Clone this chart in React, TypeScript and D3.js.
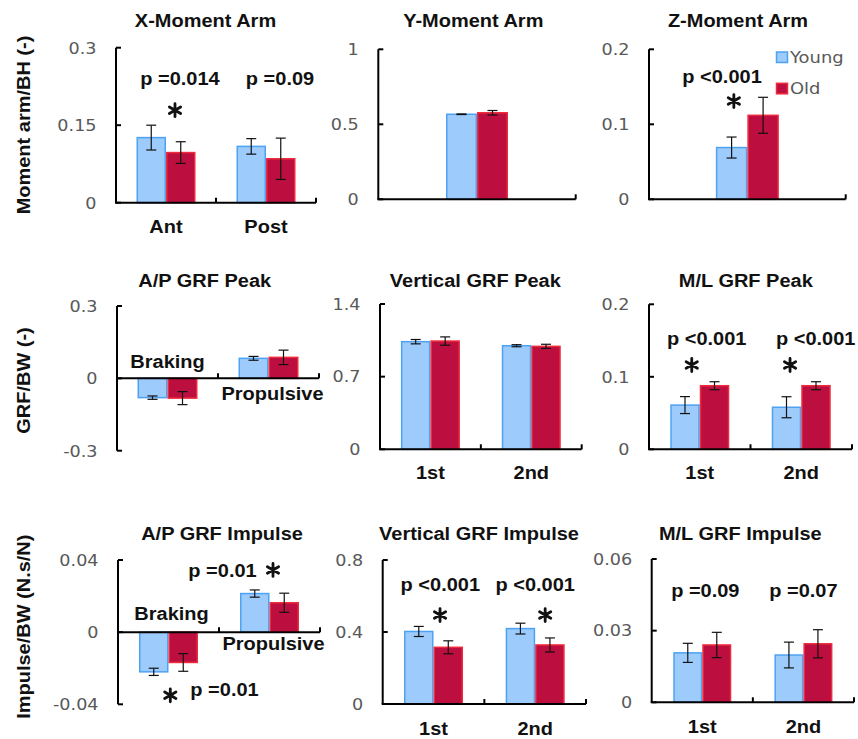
import React from "react";
import * as d3 from "d3";

// ---------- data ----------
const seriesNames = ["Young", "Old"];

const xMomentCats = ["Ant", "Post"];
const xMomentYoung = [0.126, 0.109];
const xMomentYoungErr = [0.024, 0.015];
const xMomentOld = [0.097, 0.085];
const xMomentOldErr = [0.021, 0.04];
const xMomentTicks = [0, 0.15, 0.3];

const yMomentCats = [""];
const yMomentYoung = [0.567];
const yMomentYoungErr = [0.002];
const yMomentOld = [0.577];
const yMomentOldErr = [0.015];
const yMomentTicks = [0, 0.5, 1];

const zMomentCats = [""];
const zMomentYoung = [0.069];
const zMomentYoungErr = [0.014];
const zMomentOld = [0.112];
const zMomentOldErr = [0.024];
const zMomentTicks = [0, 0.1, 0.2];

const apPeakCats = ["Braking", "Propulsive"];
const apPeakYoung = [-0.08, 0.083];
const apPeakYoungErr = [0.007, 0.008];
const apPeakOld = [-0.082, 0.087];
const apPeakOldErr = [0.027, 0.03];
const apPeakTicks = [-0.3, 0, 0.3];

const vPeakCats = ["1st", "2nd"];
const vPeakYoung = [1.037, 0.998];
const vPeakYoungErr = [0.021, 0.01];
const vPeakOld = [1.043, 0.992];
const vPeakOldErr = [0.04, 0.02];
const vPeakTicks = [0, 0.7, 1.4];

const mlPeakCats = ["1st", "2nd"];
const mlPeakYoung = [0.061, 0.058];
const mlPeakYoungErr = [0.0117, 0.0145];
const mlPeakOld = [0.0877, 0.0877];
const mlPeakOldErr = [0.0055, 0.0055];
const mlPeakTicks = [0, 0.1, 0.2];

const apImpCats = ["Braking", "Propulsive"];
const apImpYoung = [-0.022, 0.0214];
const apImpYoungErr = [0.002, 0.002];
const apImpOld = [-0.0168, 0.0163];
const apImpOldErr = [0.0049, 0.0053];
const apImpTicks = [-0.04, 0, 0.04];

const vImpCats = ["1st", "2nd"];
const vImpYoung = [0.403, 0.419];
const vImpYoungErr = [0.028, 0.03];
const vImpOld = [0.315, 0.328];
const vImpOldErr = [0.036, 0.039];
const vImpTicks = [0, 0.4, 0.8];

const mlImpCats = ["1st", "2nd"];
const mlImpYoung = [0.0207, 0.0198];
const mlImpYoungErr = [0.004, 0.0054];
const mlImpOld = [0.024, 0.0245];
const mlImpOldErr = [0.0053, 0.0059];
const mlImpTicks = [0, 0.03, 0.06];

// ---------- style ----------
const BOLD = "'Liberation Sans', Arial, sans-serif";
const TICKF = "'DejaVu Sans', Verdana, sans-serif";
const SX = 1.08;
const FILLS = ["#9ccbfc", "#bd0f3f"];
const STROKES = ["#4ea2f2", "#ee2a3c"];
const TXT = "#111";
const GRAY = "#595959";

type Note = { text: string; cat: number; dx: number; v: number };
type CatLab = { dx: number; dy: number };

type PanelCfg = {
  title: string;
  titleX: number;
  titleY: number;
  left: number;
  right: number;
  top: number;
  bottom: number;
  domain: [number, number];
  ticks: number[];
  cats: string[];
  young: number[];
  youngErr: number[];
  old: number[];
  oldErr: number[];
  barW: number;
  notes: Note[];
  catLabs?: CatLab[];
  catDy?: number;
  legend?: boolean;
};

const panels: PanelCfg[] = [
  {
    title: "X-Moment Arm", titleX: 205.5, titleY: 27.3,
    left: 116, right: 316, top: 47.7, bottom: 202.7, domain: [0, 0.3], ticks: xMomentTicks,
    cats: xMomentCats, young: xMomentYoung, youngErr: xMomentYoungErr, old: xMomentOld, oldErr: xMomentOldErr,
    barW: 29.5, catDy: 30.6,
    notes: [
      { text: "p =0.014", cat: 0, dx: 14, v: 0.2277 },
      { text: "*", cat: 0, dx: 9, v: 0.179 },
      { text: "p =0.09", cat: 1, dx: 14, v: 0.2277 },
    ],
  },
  {
    title: "Y-Moment Arm", titleX: 473.3, titleY: 27.3,
    left: 378.3, right: 575.7, top: 49.3, bottom: 199.3, domain: [0, 1], ticks: yMomentTicks,
    cats: yMomentCats, young: yMomentYoung, youngErr: yMomentYoungErr, old: yMomentOld, oldErr: yMomentOldErr,
    barW: 31, notes: [],
  },
  {
    title: "Z-Moment Arm", titleX: 738, titleY: 27.3,
    left: 649, right: 845.7, top: 49.3, bottom: 199.3, domain: [0, 0.2], ticks: zMomentTicks,
    cats: zMomentCats, young: zMomentYoung, youngErr: zMomentYoungErr, old: zMomentOld, oldErr: zMomentOldErr,
    barW: 31.5, legend: true,
    notes: [
      { text: "p <0.001", cat: 0, dx: -25.3, v: 0.1547 },
      { text: "*", cat: 0, dx: -13.5, v: 0.131 },
    ],
  },
  {
    title: "A/P GRF Peak", titleX: 204.7, titleY: 286.7,
    left: 117, right: 319, top: 306, bottom: 450.7, domain: [-0.3, 0.3], ticks: apPeakTicks,
    cats: apPeakCats, young: apPeakYoung, youngErr: apPeakYoungErr, old: apPeakOld, oldErr: apPeakOldErr,
    barW: 30, notes: [],
    catLabs: [{ dx: 0, dy: -10 }, { dx: 4, dy: 21.7 }],
  },
  {
    title: "Vertical GRF Peak", titleX: 475.3, titleY: 287.3,
    left: 380, right: 581.7, top: 304, bottom: 449.3, domain: [0, 1.4], ticks: vPeakTicks,
    cats: vPeakCats, young: vPeakYoung, youngErr: vPeakYoungErr, old: vPeakOld, oldErr: vPeakOldErr,
    barW: 29.5, catDy: 29.5, notes: [],
  },
  {
    title: "M/L GRF Peak", titleX: 745.8, titleY: 287,
    left: 649, right: 852, top: 304.3, bottom: 449.3, domain: [0, 0.2], ticks: mlPeakTicks,
    cats: mlPeakCats, young: mlPeakYoung, youngErr: mlPeakYoungErr, old: mlPeakOld, oldErr: mlPeakOldErr,
    barW: 29.5, catDy: 29.5,
    notes: [
      { text: "p <0.001", cat: 0, dx: 7, v: 0.1439 },
      { text: "*", cat: 0, dx: -8, v: 0.1163 },
      { text: "p <0.001", cat: 1, dx: 14.5, v: 0.1439 },
      { text: "*", cat: 1, dx: -11.2, v: 0.1163 },
    ],
  },
  {
    title: "A/P GRF Impulse", titleX: 222, titleY: 540,
    left: 118, right: 320, top: 560, bottom: 704.3, domain: [-0.04, 0.04], ticks: apImpTicks,
    cats: apImpCats, young: apImpYoung, youngErr: apImpYoungErr, old: apImpOld, oldErr: apImpOldErr,
    barW: 29.5,
    catLabs: [{ dx: 3, dy: -11.7 }, { dx: 4, dy: 18.3 }],
    notes: [
      { text: "p =0.01", cat: 1, dx: -47, v: 0.0304 },
      { text: "*", cat: 1, dx: 3.5, v: 0.0345 },
      { text: "*", cat: 0, dx: 1.8, v: -0.035 },
      { text: "p =0.01", cat: 0, dx: 56, v: -0.0356 },
    ],
  },
  {
    title: "Vertical GRF Impulse", titleX: 479, titleY: 540,
    left: 382.7, right: 586, top: 560, bottom: 704, domain: [0, 0.8], ticks: vImpTicks,
    cats: vImpCats, young: vImpYoung, youngErr: vImpYoungErr, old: vImpOld, oldErr: vImpOldErr,
    barW: 29.5, catDy: 31,
    notes: [
      { text: "p <0.001", cat: 0, dx: 6.8, v: 0.628 },
      { text: "*", cat: 0, dx: 6.5, v: 0.494 },
      { text: "p <0.001", cat: 1, dx: 0, v: 0.628 },
      { text: "*", cat: 1, dx: 10, v: 0.494 },
    ],
  },
  {
    title: "M/L GRF Impulse", titleX: 740.3, titleY: 540,
    left: 651.7, right: 854, top: 559, bottom: 702.3, domain: [0, 0.06], ticks: mlImpTicks,
    cats: mlImpCats, young: mlImpYoung, youngErr: mlImpYoungErr, old: mlImpOld, oldErr: mlImpOldErr,
    barW: 29, catDy: 31,
    notes: [
      { text: "p =0.09", cat: 0, dx: 3, v: 0.0442 },
      { text: "p =0.07", cat: 1, dx: 0, v: 0.0442 },
    ],
  },
];

const yLabels = [
  { text: "Moment arm/BH (-)", x: 29.5, y: 125 },
  { text: "GRF/BW (-)", x: 29.5, y: 380.5 },
  { text: "Impulse/BW (N.s/N)", x: 30, y: 626.7 },
];

function Txt(props: {
  x: number; y: number; children: React.ReactNode; size?: number; weight?: string;
  fill?: string; family?: string; anchor?: string; rot?: number; sx?: number;
}) {
  const { x, y, children, size = 18.5, weight = "bold", fill = TXT, family = BOLD, anchor = "middle", rot = 0, sx = SX } = props;
  return (
    <text
      transform={`translate(${x},${y}) rotate(${rot}) scale(${sx},1)`}
      fontSize={size}
      fontWeight={weight}
      fill={fill}
      fontFamily={family}
      textAnchor={anchor as any}
    >
      {children}
    </text>
  );
}

const starPath = d3.symbol(d3.symbolAsterisk, 119)() as string;

function Panel({ p }: { p: PanelCfg }) {
  const y = d3.scaleLinear().domain(p.domain).range([p.bottom, p.top]);
  const x = d3.scaleBand<number>().domain(p.cats.map((_, i) => i)).range([p.left, p.right]);
  const y0 = y(0);
  const series = [
    { vals: p.young, errs: p.youngErr },
    { vals: p.old, errs: p.oldErr },
  ];
  const center = (i: number) => (x(i) as number) + x.bandwidth() / 2;
  const boundaries = p.cats.map((_, i) => (x(i) as number) + x.bandwidth());

  return (
    <g>
      <Txt x={p.titleX} y={p.titleY}>{p.title}</Txt>
      {/* bars */}
      {series.map((s, si) =>
        s.vals.map((v, i) => {
          const bx = center(i) - p.barW + si * p.barW;
          const yt = Math.min(y(v), y0);
          const h = Math.abs(y(v) - y0);
          return (
            <rect key={`b${si}-${i}`} x={bx + 0.75} y={yt} width={p.barW - 1.5} height={h}
              fill={FILLS[si]} stroke={STROKES[si]} strokeWidth={1.5} />
          );
        })
      )}
      {/* error bars */}
      {series.map((s, si) =>
        s.vals.map((v, i) => {
          const cx = center(i) - p.barW + si * p.barW + p.barW / 2;
          const y1 = y(v - s.errs[i]);
          const y2 = y(v + s.errs[i]);
          return (
            <g key={`e${si}-${i}`} stroke="#111" strokeWidth={1.2}>
              <line x1={cx} x2={cx} y1={y1} y2={y2} />
              <line x1={cx - 5} x2={cx + 5} y1={y1} y2={y1} />
              <line x1={cx - 5} x2={cx + 5} y1={y2} y2={y2} />
            </g>
          );
        })
      )}
      {/* y axis */}
      <line x1={p.left} x2={p.left} y1={p.top} y2={p.bottom} stroke="#000" strokeWidth={2} />
      {p.ticks.map((t) => (
        <g key={`t${t}`}>
          <line x1={p.left} x2={p.left + 5} y1={y(t)} y2={y(t)} stroke="#000" strokeWidth={2} />
          <Txt x={p.left - 19.5} y={y(t) + 5.8} size={16} weight="normal" fill={GRAY} family={TICKF} anchor="end" sx={1.1}>
            {String(t)}
          </Txt>
        </g>
      ))}
      {/* x axis */}
      <line x1={p.left - 1} x2={p.right} y1={y0} y2={y0} stroke="#000" strokeWidth={2} />
      {boundaries.map((bx, i) => (
        <line key={`xt${i}`} x1={bx} x2={bx} y1={y0} y2={y0 - 5} stroke="#000" strokeWidth={2} />
      ))}
      {/* category labels */}
      {p.cats.map((c, i) =>
        c ? (
          p.catLabs ? (
            <Txt key={`c${i}`} x={center(i) + p.catLabs[i].dx} y={y0 + p.catLabs[i].dy}>{c}</Txt>
          ) : (
            <Txt key={`c${i}`} x={center(i)} y={y0 + (p.catDy ?? 30)}>{c}</Txt>
          )
        ) : null
      )}
      {/* annotations */}
      {p.notes.map((n, i) =>
        n.text === "*" ? (
          <path key={`n${i}`} d={starPath} transform={`translate(${center(n.cat) + n.dx},${y(n.v)})`}
            fill="none" stroke="#111" strokeWidth={2.8} strokeLinecap="round" />
        ) : (
          <Txt key={`n${i}`} x={center(n.cat) + n.dx} y={y(n.v)}>{n.text}</Txt>
        )
      )}
      {/* legend */}
      {p.legend &&
        seriesNames.map((name, si) => (
          <g key={`l${si}`}>
            <rect x={776.5} y={52 + si * 31.3} width={11} height={10.5} fill={FILLS[si]} stroke={STROKES[si]} strokeWidth={1.5} />
            <Txt x={790} y={63.3 + si * 31} size={16.3} weight="normal" fill={GRAY} family={TICKF} anchor="start" sx={1.1}>
              {name}
            </Txt>
          </g>
        ))}
    </g>
  );
}

export default function App() {
  return (
    <svg width={858} height={739} viewBox="0 0 858 739"
      style={{ position: "absolute", left: 0, top: 0, background: "#fff" }}>
      <rect x={0} y={0} width={858} height={739} fill="#fff" />
      {panels.map((p, i) => (
        <Panel key={i} p={p} />
      ))}
      {yLabels.map((l, i) => (
        <Txt key={`yl${i}`} x={l.x} y={l.y} rot={-90}>{l.text}</Txt>
      ))}
    </svg>
  );
}
